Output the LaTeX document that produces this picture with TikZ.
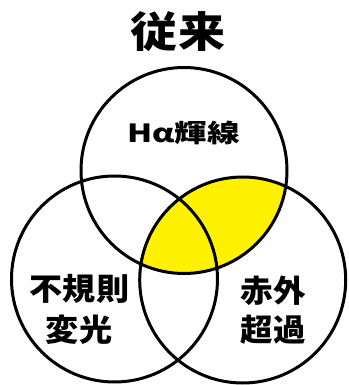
\documentclass[tikz,border=0pt]{standalone}
\usepackage{fontspec}
\usepackage{graphicx}
\newfontfamily\cjk{Noto Sans CJK JP}
\tikzset{
  ring/.style={draw=black, line width=3pt},
  lbl/.style={inner sep=0pt, outer sep=0pt, font=\cjk\bfseries},
}
\begin{document}
\begin{tikzpicture}[x=1pt,y=1pt]
\useasboundingbox (0,0) rectangle (348,385);
\fill[white] (0,0) rectangle (348,385);
\coordinate (ct) at (184,214.5);
\coordinate (cl) at (114.5,106);
\coordinate (cr) at (242.7,105);
\begin{scope}
  \clip (ct) circle[radius=103];
  \fill[yellow] (cr) circle[radius=103];
\end{scope}
\draw[ring] (ct) circle[radius=103];
\draw[ring] (cl) circle[radius=103];
\draw[ring] (cr) circle[radius=103];
\node[lbl] (title) at (178,353.5) {\scalebox{1.12}[1]{\fontsize{42}{42}\selectfont 従来}};
\node[lbl] (ha) at (183.3,252.5) {\scalebox{1.3}[1]{\fontsize{25}{25}\selectfont Hα輝線}};
\node[lbl] (ir1) at (79.5,96.5) {\scalebox{1.07}[1]{\fontsize{31}{31}\selectfont 不規則}};
\node[lbl] (ir2) at (79,55) {\scalebox{1.07}[1]{\fontsize{31}{31}\selectfont 変光}};
\node[lbl] (ex1) at (273.5,94) {\scalebox{1.05}[1]{\fontsize{31}{31}\selectfont 赤外}};
\node[lbl] (ex2) at (273.5,55) {\scalebox{1.05}[1]{\fontsize{31}{31}\selectfont 超過}};
\end{tikzpicture}
\end{document}
